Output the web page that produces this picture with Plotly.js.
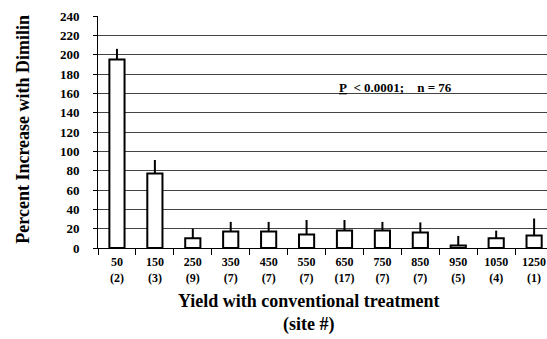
<!DOCTYPE html>
<html><head><meta charset="utf-8">
<script src="https://cdn.plot.ly/plotly-3.0.1.min.js"></script>
<style>html,body{margin:0;padding:0;overflow:hidden;background:#fff}</style>
</head><body><div id="chart" style="width:547px;height:339px"></div>
<script>
const categories = ['50','150','250','350','450','550','650','750','850','950','1050','1250'];
const sites = ['(2)','(3)','(9)','(7)','(7)','(7)','(17)','(7)','(7)','(5)','(4)','(1)'];
const values = [195, 77, 10, 17, 17, 14, 18, 18, 16, 2.5, 10, 13];
const errPlus = [11, 14, 10, 10, 10, 15, 11, 9, 10.5, 10, 8, 17.5];
const yTicks = [0,20,40,60,80,100,120,140,160,180,200,220,240];

const font = '"Liberation Serif", "Times New Roman", Times, serif';
const tickText = categories.map((c,i)=> c + '<br>' + sites[i]);

const trace = {
  type:'bar', x:categories, y:values,
  marker:{color:'#ffffff', line:{color:'#000', width:2}},
  error_y:{type:'data', symmetric:false, array:errPlus, arrayminus:values.map(()=>0), color:'#000', thickness:2, width:0},
  hoverinfo:'skip'
};

const annFont = {family:font, size:13, weight:'bold', color:'#000'};

const layout = {
  width:547, height:339,
  margin:{l:98, r:0, t:15.5, b:91.3},
  paper_bgcolor:'#fff', plot_bgcolor:'#fff',
  showlegend:false, bargap:0.6,
  font:{family:font, color:'#000'},
  xaxis:{type:'category', range:[-0.5, 11.34], tickvals:categories, ticktext:tickText,
    tickfont:{family:font, size:12, weight:'bold', color:'#000'},
    ticks:'outside', tickson:'boundaries', ticklen:6, tickcolor:'#000', tickwidth:1,
    ticklabelstandoff:3,
    showline:true, linecolor:'#000', linewidth:1, showgrid:false, zeroline:false, fixedrange:true},
  yaxis:{range:[0,240], tickvals:yTicks, ticktext:yTicks.map(String),
    tickfont:{family:font, size:13, weight:'bold', color:'#000'},
    ticks:'outside', ticklen:4, tickcolor:'#000', tickwidth:1,
    ticklabelstandoff:11,
    showline:true, linecolor:'#000', linewidth:1,
    showgrid:true, gridcolor:'#444', gridwidth:1, zeroline:false, fixedrange:true},
  annotations:[
    {xref:'x', yref:'y', x:5.8, y:166, xanchor:'left', yanchor:'middle', showarrow:false,
     text:'<span style="text-decoration:underline;text-decoration-thickness:2px">P</span>&nbsp; &lt; 0.0001;&nbsp;&nbsp;&nbsp;&nbsp;n = 76', font:annFont},
    {xref:'paper', yref:'paper', x:0.468, y:-0.281, xanchor:'center', yanchor:'middle', showarrow:false,
     text:'Yield with conventional treatment<br>(site #)',
     font:{family:font, size:18, weight:'bold', color:'#000'}},
    {xref:'paper', yref:'paper', x:-0.167, y:0.51, xanchor:'center', yanchor:'middle', showarrow:false, textangle:-90,
     text:'Percent Increase with Dimilin',
     font:{family:font, size:18, weight:'bold', color:'#000'}}
  ]
};

Plotly.newPlot('chart', [trace], layout, {staticPlot:true, displayModeBar:false});
</script></body></html>
